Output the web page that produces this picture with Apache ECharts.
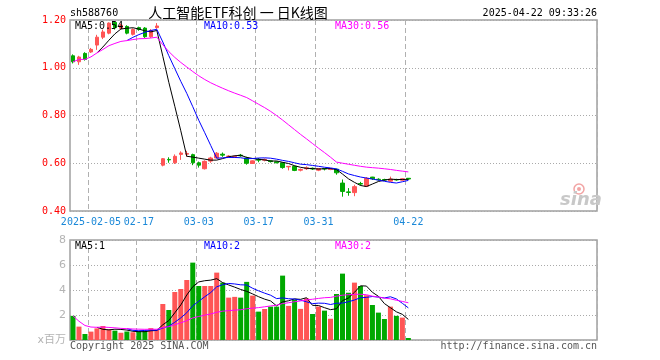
<!DOCTYPE html>
<html>
<head>
<meta charset="utf-8">
<script src="https://cdn.jsdelivr.net/npm/echarts/dist/echarts.min.js"></script>
<style>html,body{margin:0;padding:0;background:#fff;}#c{width:660px;height:360px;}</style>
</head>
<body>
<div id="c"></div>
<script>
// ---------- data ----------
const dates = [
  '2025-01-23','2025-01-24','2025-01-27',
  '2025-02-05','2025-02-06','2025-02-07','2025-02-10','2025-02-11','2025-02-12','2025-02-13','2025-02-14',
  '2025-02-17','2025-02-18','2025-02-19','2025-02-20','2025-02-21','2025-02-24','2025-02-25','2025-02-26','2025-02-27','2025-02-28',
  '2025-03-03','2025-03-04','2025-03-05','2025-03-06','2025-03-07','2025-03-10','2025-03-11','2025-03-12','2025-03-13','2025-03-14',
  '2025-03-17','2025-03-18','2025-03-19','2025-03-20','2025-03-21','2025-03-24','2025-03-25','2025-03-26','2025-03-27','2025-03-28',
  '2025-03-31','2025-04-01','2025-04-02','2025-04-03','2025-04-07','2025-04-08','2025-04-09','2025-04-10','2025-04-11',
  '2025-04-14','2025-04-15','2025-04-16','2025-04-17','2025-04-18','2025-04-21','2025-04-22'
];
const opens = [
  1.050,1.025,1.060,1.066,1.095,1.128,1.145,1.190,1.165,1.173,1.140,1.168,1.166,1.130,1.168,
  0.592,0.616,0.602,0.637,0.638,0.636,0.602,0.577,0.609,0.622,0.638,0.628,0.624,0.634,0.622,
  0.599,0.617,0.613,0.610,0.606,0.602,0.585,0.587,0.571,0.577,0.579,0.571,0.578,0.574,0.575,
  0.517,0.480,0.477,0.515,0.504,0.542,0.533,0.532,0.525,0.532,0.529,0.537
];
const closes = [
  1.025,1.045,1.035,1.077,1.128,1.150,1.187,1.168,1.178,1.145,1.160,1.160,1.130,1.156,1.175,
  0.619,0.614,0.629,0.643,0.641,0.602,0.592,0.608,0.622,0.642,0.634,0.630,0.629,0.631,0.600,
  0.610,0.613,0.616,0.607,0.602,0.582,0.587,0.570,0.574,0.581,0.576,0.578,0.576,0.578,0.560,
  0.482,0.478,0.502,0.513,0.537,0.535,0.531,0.530,0.534,0.530,0.535,0.534
];
const lows = [
  1.018,1.012,1.030,1.062,1.075,1.120,1.140,1.160,1.160,1.140,1.135,1.155,1.125,1.125,1.163,
  0.587,0.602,0.597,0.614,0.627,0.592,0.582,0.574,0.602,0.620,0.627,0.624,0.622,0.627,0.594,
  0.597,0.604,0.608,0.603,0.600,0.577,0.570,0.567,0.566,0.572,0.572,0.567,0.570,0.571,0.552,
  0.460,0.464,0.462,0.507,0.502,0.530,0.527,0.526,0.522,0.527,0.527,0.531
];
const highs = [
  1.056,1.050,1.065,1.083,1.138,1.160,1.190,1.195,1.185,1.178,1.165,1.172,1.170,1.162,1.187,
  0.622,0.625,0.637,0.650,0.652,0.640,0.607,0.612,0.627,0.647,0.645,0.634,0.632,0.639,0.627,
  0.612,0.622,0.620,0.612,0.608,0.605,0.588,0.590,0.578,0.587,0.582,0.580,0.580,0.580,0.577,
  0.532,0.496,0.510,0.522,0.542,0.543,0.537,0.535,0.544,0.535,0.537,0.538
];
const volumes = [
  1.93,1.07,0.48,0.67,0.93,1.12,0.85,0.75,0.58,0.68,0.62,0.72,0.72,0.95,0.82,
  2.88,2.40,3.84,4.08,4.80,6.19,4.32,4.32,4.32,5.39,4.59,3.39,3.45,3.39,4.65,
  3.55,2.27,2.48,2.67,2.67,5.15,2.73,3.22,2.49,3.33,2.08,2.68,2.35,1.70,3.68,
  5.31,3.78,4.59,4.32,3.58,2.80,2.19,1.68,2.67,1.93,1.79,0.16
];
const tickDates = ['2025-02-05','2025-02-17','2025-03-03','2025-03-17','2025-03-31','2025-04-22'];
const totalSlots = 88;
const priceAxis = {min: 0.4, max: 1.2, interval: 0.2};
const volAxis = {min: 0, max: 8, interval: 2};
const priceMaLabels = ['MA5:0.54', 'MA10:0.53', 'MA30:0.56'];
const volMaLabels = ['MA5:1', 'MA10:2', 'MA30:2'];
const titleText = '人工智能ETF科创 一 日K线图';
const codeText = 'sh588760';
const timeText = '2025-04-22 09:33:26';
const copyText = 'Copyright 2025 SINA.COM';
const urlText = 'http://finance.sina.com.cn';
const volUnit = 'x百万';

// ---------- helpers ----------
function ma(arr, n, partial) {
  return arr.map(function (v, i) {
    if (i < n - 1 && !partial) return '-';
    const s = arr.slice(Math.max(0, i - n + 1), i + 1);
    return s.reduce(function (a, b) { return a + b; }, 0) / s.length;
  });
}
const cats = dates.slice();
for (let i = dates.length; i < totalSlots; i++) cats.push('pad' + i);
const isTick = function (idx, val) { return tickDates.indexOf(val) >= 0; };

const RED = '#ff5555', GREEN = '#00a800';
const MONO = '"DejaVu Sans Mono", "Liberation Mono", monospace';
const GRID_L = 70, GRID_W = 527;

const candleData = dates.map(function (d, i) { return [opens[i], closes[i], lows[i], highs[i]]; });
const volData = volumes.map(function (v, i) {
  return {value: v, itemStyle: {color: closes[i] >= opens[i] ? RED : GREEN}};
});

function xAx(gi, showLabel) {
  return {
    type: 'category', gridIndex: gi, data: cats, boundaryGap: true,
    axisLine: {show: false}, axisTick: {show: false},
    axisLabel: {
      show: showLabel, interval: isTick, margin: 6,
      color: '#1a88d8', fontFamily: MONO, fontSize: 10,
      formatter: function (v) { return v === tickDates[0] ? v : v.slice(5); }
    },
    splitLine: {show: true, interval: isTick, lineStyle: {color: '#b0b0b0', type: [5, 3], width: 1}}
  };
}

const chart = echarts.init(document.getElementById('c'), null, {renderer: 'canvas'});
chart.setOption({
  animation: false,
  backgroundColor: '#fff',
  grid: [
    {left: GRID_L, width: GRID_W, top: 20, height: 191, show: true, borderColor: '#a0a0a0', borderWidth: 1.5},
    {left: GRID_L, width: GRID_W, top: 240, height: 100, show: true, borderColor: '#a0a0a0', borderWidth: 1.5}
  ],
  xAxis: [xAx(0, true), xAx(1, false)],
  yAxis: [
    {
      type: 'value', gridIndex: 0, min: priceAxis.min, max: priceAxis.max, interval: priceAxis.interval,
      axisLine: {show: false}, axisTick: {show: false},
      axisLabel: {color: '#ff0000', fontFamily: MONO, fontSize: 10, margin: 4,
        formatter: function (v) { return v.toFixed(2); }},
      splitLine: {show: true, lineStyle: {color: '#aaaaaa', type: [1, 2], width: 1}}
    },
    {
      type: 'value', gridIndex: 1, min: volAxis.min, max: volAxis.max, interval: volAxis.interval,
      axisLine: {show: false}, axisTick: {show: false},
      axisLabel: {color: '#b4b4b4', fontFamily: '"DejaVu Sans", "Noto Sans CJK SC", sans-serif', fontSize: 11, margin: 4,
        formatter: function (v) { return v === 0 ? volUnit : String(v); }},
      splitLine: {show: true, lineStyle: {color: '#aaaaaa', type: [1, 2], width: 1}}
    }
  ],
  series: [
    {
      type: 'candlestick', xAxisIndex: 0, yAxisIndex: 0, data: candleData, barWidth: 4,
      itemStyle: {color: RED, color0: GREEN, borderColor: RED, borderColor0: GREEN, borderWidth: 1}
    },
    {type: 'line', xAxisIndex: 0, yAxisIndex: 0, data: ma(closes, 5), symbol: 'none', lineStyle: {color: '#000', width: 1}},
    {type: 'line', xAxisIndex: 0, yAxisIndex: 0, data: ma(closes, 10), symbol: 'none', lineStyle: {color: '#0000ff', width: 1}},
    {type: 'line', xAxisIndex: 0, yAxisIndex: 0, data: ma(closes, 30, true), symbol: 'none', lineStyle: {color: '#ff00ff', width: 1}},
    {type: 'bar', xAxisIndex: 1, yAxisIndex: 1, data: volData, barWidth: 5},
    {type: 'line', xAxisIndex: 1, yAxisIndex: 1, data: ma(volumes, 5), symbol: 'none', lineStyle: {color: '#000', width: 1}},
    {type: 'line', xAxisIndex: 1, yAxisIndex: 1, data: ma(volumes, 10), symbol: 'none', lineStyle: {color: '#0000ff', width: 1}},
    {type: 'line', xAxisIndex: 1, yAxisIndex: 1, data: ma(volumes, 30, true), symbol: 'none', lineStyle: {color: '#ff00ff', width: 1}}
  ],
  graphic: [
    {type: 'text', z: 10, style: {text: codeText, x: 70, y: 13, verticalAlign: 'middle', font: '10px ' + MONO, fill: '#000'}},
    {type: 'text', z: 10, style: {text: titleText, x: 238, y: 13, align: 'center', verticalAlign: 'middle', font: '14px "Noto Sans CJK SC", sans-serif', fill: '#000'}},
    {type: 'text', z: 10, style: {text: timeText, x: 597, y: 13, align: 'right', verticalAlign: 'middle', font: '10px ' + MONO, fill: '#000'}},
    {type: 'text', z: 10, style: {text: priceMaLabels[0], x: 75, y: 26, verticalAlign: 'middle', font: '10px ' + MONO, fill: '#000'}},
    {type: 'text', z: 10, style: {text: priceMaLabels[1], x: 204, y: 26, verticalAlign: 'middle', font: '10px ' + MONO, fill: '#0000ff'}},
    {type: 'text', z: 10, style: {text: priceMaLabels[2], x: 335, y: 26, verticalAlign: 'middle', font: '10px ' + MONO, fill: '#ff00ff'}},
    {type: 'text', z: 10, style: {text: volMaLabels[0], x: 75, y: 246, verticalAlign: 'middle', font: '10px ' + MONO, fill: '#000'}},
    {type: 'text', z: 10, style: {text: volMaLabels[1], x: 204, y: 246, verticalAlign: 'middle', font: '10px ' + MONO, fill: '#0000ff'}},
    {type: 'text', z: 10, style: {text: volMaLabels[2], x: 335, y: 246, verticalAlign: 'middle', font: '10px ' + MONO, fill: '#ff00ff'}},
    {type: 'text', z: 10, style: {text: copyText, x: 70, y: 346, verticalAlign: 'middle', font: '10px ' + MONO, fill: '#555'}},
    {type: 'text', z: 10, style: {text: urlText, x: 597, y: 346, align: 'right', verticalAlign: 'middle', font: '10px ' + MONO, fill: '#555'}},
    {type: 'circle', z: 10, shape: {cx: 579, cy: 189, r: 5}, style: {fill: 'none', stroke: '#f2a4a4', lineWidth: 1.5}},
    {type: 'circle', z: 10, shape: {cx: 579, cy: 189, r: 2}, style: {fill: '#f2a4a4'}},
    {type: 'text', z: 10, style: {text: 'sina', x: 581, y: 200, align: 'center', verticalAlign: 'middle', font: 'italic bold 18px "DejaVu Sans", sans-serif', fill: '#c8c8c8'}}
  ]
});
</script>
</body>
</html>
